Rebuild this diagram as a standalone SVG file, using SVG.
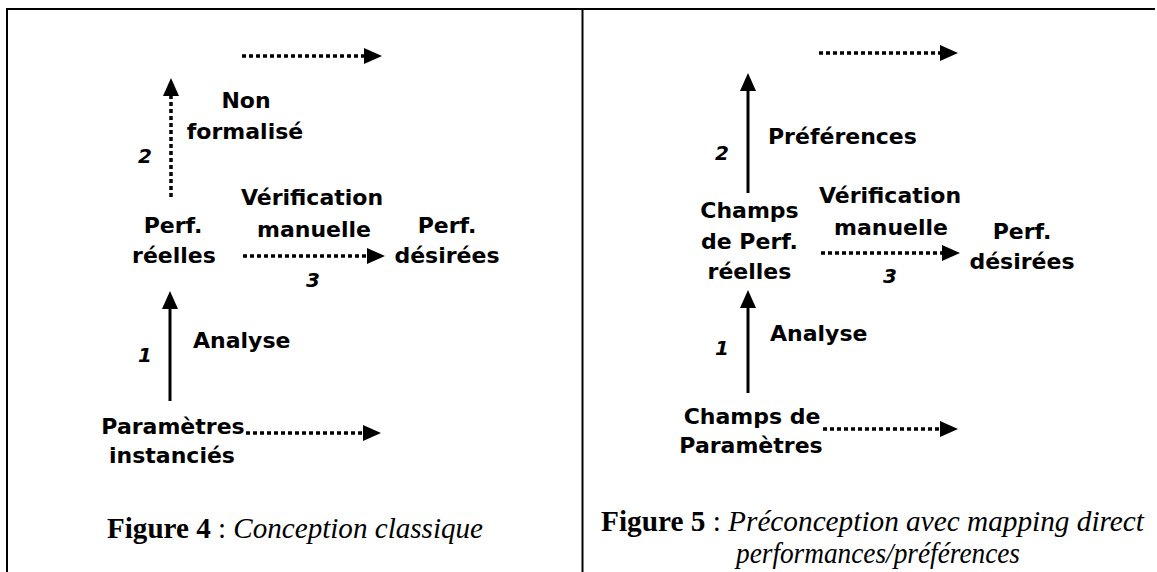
<svg xmlns="http://www.w3.org/2000/svg" width="1157" height="572" viewBox="0 0 1157 572">
<style>
.frame{fill:none;stroke:#000;stroke-width:2}
.lbl{font-family:"DejaVu Sans",sans-serif;font-weight:bold;font-size:22px;fill:#000}
.num{font-family:"DejaVu Sans",sans-serif;font-weight:bold;font-style:italic;font-size:20px;fill:#000}
.cap{font-family:"Liberation Serif",serif;font-size:29px;fill:#000}
.dot{fill:none;stroke:#000;stroke-width:3.5;stroke-dasharray:4 3}
.sol{fill:none;stroke:#000;stroke-width:3}
</style>
<defs>
<marker id="ah" markerUnits="userSpaceOnUse" markerWidth="18" markerHeight="16" refX="0" refY="8" orient="auto" viewBox="0 0 18 16">
<path d="M0,0 L18,8 L0,16 z" fill="#000"/>
</marker>
</defs>
<g id="frame">
<path class="frame" d="M7,572 V9 H1155"/>
<path class="frame" d="M582.5,9 V572"/>
</g>
<g id="connectors">
<path class="dot" d="M242,56 H364" marker-end="url(#ah)"/>
<path class="dot" d="M171,197 V96" marker-end="url(#ah)"/>
<path class="dot" d="M243,256 H367" marker-end="url(#ah)"/>
<path class="sol" d="M170,401 V309" marker-end="url(#ah)"/>
<path class="dot" d="M246,433 H363" marker-end="url(#ah)"/>
<path class="dot" d="M819,53 H940" marker-end="url(#ah)"/>
<path class="sol" d="M748,193 V91" marker-end="url(#ah)"/>
<path class="dot" d="M821,253 H942" marker-end="url(#ah)"/>
<path class="sol" d="M748,393 V308" marker-end="url(#ah)"/>
<path class="dot" d="M823,429 H940" marker-end="url(#ah)"/>
</g>
<g id="fig4">
<g id="n4-nonformalise"><text class="lbl" text-anchor="middle" x="246" y="108">Non</text><text class="lbl" text-anchor="middle" x="245" y="139">formalisé</text></g>
<g id="n4-num2"><text class="num" x="138" y="163">2</text></g>
<g id="n4-perfreelles"><text class="lbl" text-anchor="middle" x="173" y="233">Perf.</text><text class="lbl" text-anchor="middle" x="174" y="263">réelles</text></g>
<g id="n4-verif"><text class="lbl" text-anchor="middle" x="312" y="205">Vérification</text><text class="lbl" text-anchor="middle" x="314" y="237">manuelle</text></g>
<g id="n4-perfdesirees"><text class="lbl" text-anchor="middle" x="447" y="233">Perf.</text><text class="lbl" text-anchor="middle" x="447" y="263">désirées</text></g>
<g id="n4-num3"><text class="num" text-anchor="middle" x="313" y="287">3</text></g>
<g id="n4-analyse"><text class="lbl" x="193" y="348">Analyse</text></g>
<g id="n4-num1"><text class="num" x="138" y="362">1</text></g>
<g id="n4-params"><text class="lbl" text-anchor="middle" x="173" y="434">Paramètres</text><text class="lbl" text-anchor="middle" x="172" y="463">instanciés</text></g>
<g id="n4-caption"><text class="cap" x="107" y="538" textLength="376" lengthAdjust="spacingAndGlyphs"><tspan font-weight="bold">Figure 4</tspan> : <tspan font-style="italic">Conception classique</tspan></text></g>
</g>
<g id="fig5">
<g id="n5-pref"><text class="lbl" x="768" y="144">Préférences</text></g>
<g id="n5-num2"><text class="num" x="715" y="160">2</text></g>
<g id="n5-verif"><text class="lbl" text-anchor="middle" x="890" y="203">Vérification</text><text class="lbl" text-anchor="middle" x="891" y="235">manuelle</text></g>
<g id="n5-champsperf"><text class="lbl" text-anchor="middle" x="749.5" y="218">Champs</text><text class="lbl" text-anchor="middle" x="749.5" y="249">de Perf.</text><text class="lbl" text-anchor="middle" x="749.5" y="279">réelles</text></g>
<g id="n5-num3"><text class="num" text-anchor="middle" x="890" y="283">3</text></g>
<g id="n5-perfdesirees"><text class="lbl" text-anchor="middle" x="1022" y="239">Perf.</text><text class="lbl" text-anchor="middle" x="1022" y="269">désirées</text></g>
<g id="n5-analyse"><text class="lbl" x="770" y="341">Analyse</text></g>
<g id="n5-num1"><text class="num" x="715" y="355">1</text></g>
<g id="n5-champsparams"><text class="lbl" text-anchor="middle" x="752" y="424">Champs de</text><text class="lbl" text-anchor="middle" x="751" y="453">Paramètres</text></g>
<g id="n5-caption"><text class="cap" x="601" y="531" textLength="543" lengthAdjust="spacingAndGlyphs"><tspan font-weight="bold">Figure 5</tspan> : <tspan font-style="italic">Préconception avec mapping direct</tspan></text><text class="cap" font-style="italic" x="736" y="563" textLength="284" lengthAdjust="spacingAndGlyphs">performances/préférences</text></g>
</g>
</svg>
